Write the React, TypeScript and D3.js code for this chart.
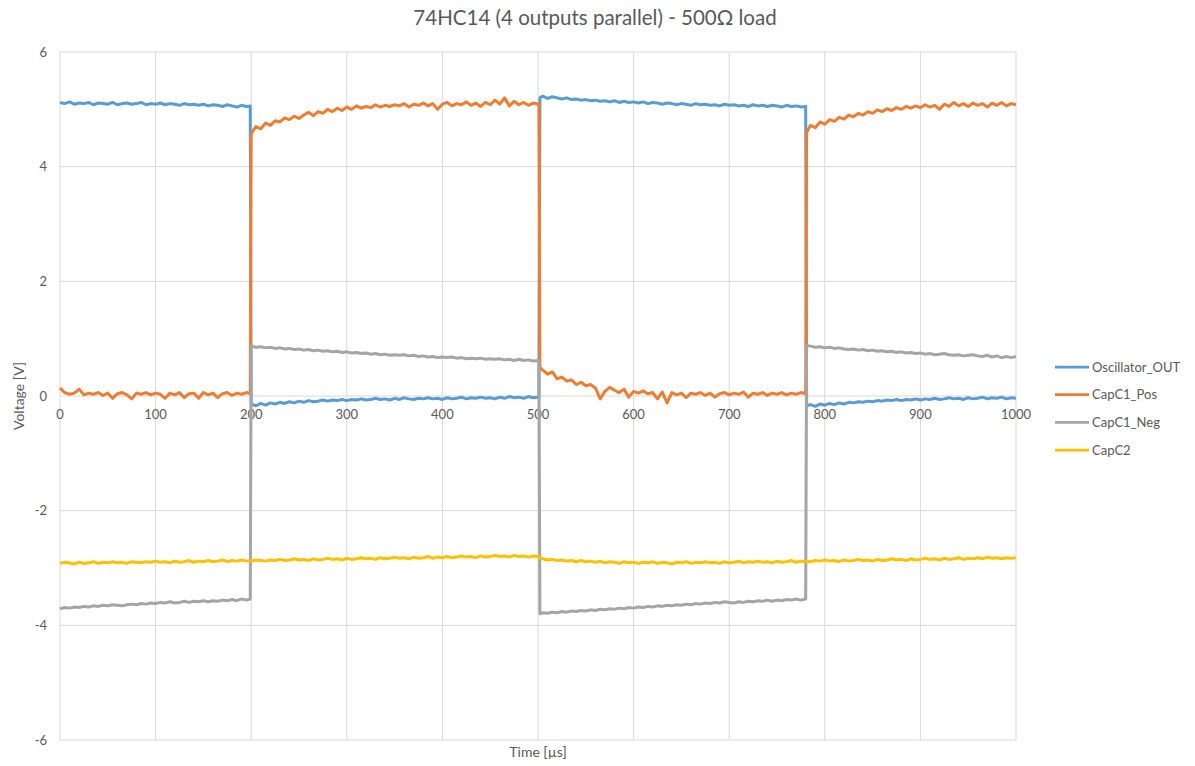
import React from "react";
import * as d3 from "d3";

// Sample instants, split at the three switching edges (µs)
const phaseATime = [...d3.range(0, 200, 5), 199];
const phaseBTime = [...d3.range(200, 505, 5), 501];
const phaseCTime = [502, ...d3.range(505, 785, 5)];
const phaseDTime = [781, ...d3.range(785, 1005, 5)];

const xTicks = [0, 100, 200, 300, 400, 500, 600, 700, 800, 900, 1000];
const yTicks = [-6, -4, -2, 0, 2, 4, 6];

const seriesNames = ["Oscillator_OUT", "CapC1_Pos", "CapC1_Neg", "CapC2"];
const seriesColors = ["#5B9BD5", "#ED7D31", "#A5A5A5", "#FFC000"];

// Oscillator_OUT [V]
const oscA = [
  5.12, 5.1, 5.13, 5.09, 5.11, 5.1, 5.12, 5.08, 5.11, 5.1,
  5.09, 5.12, 5.08, 5.1, 5.11, 5.09, 5.1, 5.12, 5.08, 5.1,
  5.09, 5.11, 5.08, 5.1, 5.09, 5.07, 5.1, 5.08, 5.09, 5.07,
  5.09, 5.06, 5.08, 5.07, 5.05, 5.08, 5.06, 5.04, 5.07, 5.05,
  5.06,
];
const oscB = [
  -0.14, -0.17, -0.13, -0.16, -0.12, -0.14, -0.11, -0.13, -0.1, -0.12,
  -0.09, -0.11, -0.08, -0.1, -0.09, -0.07, -0.09, -0.07, -0.08, -0.06,
  -0.08, -0.06, -0.07, -0.05, -0.07, -0.06, -0.04, -0.06, -0.05, -0.07,
  -0.04, -0.06, -0.03, -0.05, -0.06, -0.04, -0.05, -0.03, -0.05, -0.04,
  -0.06, -0.03, -0.05, -0.04, -0.02, -0.05, -0.03, -0.04, -0.02, -0.04,
  -0.03, -0.05, -0.02, -0.04, -0.01, -0.03, -0.02, -0.04, -0.01, -0.03,
  -0.02, -0.02,
];
const oscC = [
  5.2,
  5.23, 5.19, 5.22, 5.2, 5.18, 5.2, 5.17, 5.18, 5.16, 5.17,
  5.15, 5.16, 5.14, 5.15, 5.13, 5.15, 5.12, 5.14, 5.12, 5.13,
  5.11, 5.13, 5.1, 5.12, 5.11, 5.09, 5.11, 5.1, 5.08, 5.1,
  5.09, 5.07, 5.1, 5.08, 5.09, 5.07, 5.08, 5.06, 5.09, 5.07,
  5.08, 5.06, 5.07, 5.05, 5.08, 5.06, 5.07, 5.05, 5.07, 5.06,
  5.04, 5.07, 5.05, 5.06, 5.04, 5.05,
];
const oscD = [
  -0.17,
  -0.15, -0.18, -0.14, -0.16, -0.13, -0.15, -0.12, -0.14, -0.11, -0.12,
  -0.1, -0.11, -0.09, -0.1, -0.08, -0.09, -0.07, -0.08, -0.06, -0.08,
  -0.06, -0.07, -0.05, -0.07, -0.05, -0.06, -0.04, -0.06, -0.05, -0.03,
  -0.05, -0.04, -0.06, -0.03, -0.05, -0.04, -0.02, -0.05, -0.03, -0.04,
  -0.02, -0.05, -0.03, -0.04,
];

// CapC1_Pos [V]
const posA = [
  0.14, 0.06, 0.03, 0.05, 0.12, 0.02, 0.05, 0.03, 0.06, 0.01,
  0.05, -0.04, 0.04, 0.06, 0.02, -0.05, 0.05, 0.03, 0.06, 0.02,
  0.05, 0.03, -0.04, 0.05, 0.02, 0.06, -0.03, 0.04, 0.05, -0.04,
  0.06, 0.02, 0.05, -0.03, 0.04, 0.06, 0.01, 0.05, 0.03, 0.06,
  0.04,
];
const posB = [
  4.58, 4.7, 4.66, 4.76, 4.72, 4.8, 4.78, 4.85, 4.82, 4.88,
  4.84, 4.9, 4.95, 4.89, 4.96, 4.93, 5.0, 4.96, 5.02, 4.98,
  5.04, 5.0, 5.06, 5.02, 5.05, 5.03, 5.08, 5.04, 5.07, 5.05,
  5.08, 5.06, 5.1, 5.04, 5.09, 5.07, 5.11, 5.06, 5.1, 5.0,
  5.09, 5.12, 5.06, 5.1, 5.08, 5.13, 5.07, 5.11, 5.05, 5.12,
  5.08, 5.16, 5.09, 5.2, 5.06, 5.14, 5.08, 5.12, 5.07, 5.11,
  5.09, 5.1,
];
const posC = [
  0.5,
  0.45, 0.38, 0.42, 0.3, 0.33, 0.26, 0.28, 0.2, 0.24, 0.18,
  0.2, 0.14, -0.05, 0.08, 0.15, 0.1, 0.06, 0.12, -0.02, 0.08,
  0.05, 0.09, 0.04, 0.06, -0.05, 0.07, -0.12, 0.06, 0.02, 0.05,
  -0.03, 0.05, 0.03, 0.06, 0.01, 0.05, -0.02, 0.04, 0.06, 0.02,
  0.05, 0.03, 0.07, -0.02, 0.05, 0.03, 0.06, 0.01, 0.05, 0.03,
  0.06, 0.02, 0.05, 0.03, 0.06, 0.04,
];
const posD = [
  4.6,
  4.72, 4.68, 4.78, 4.74, 4.82, 4.79, 4.86, 4.83, 4.9, 4.87,
  4.93, 4.9, 4.96, 4.93, 4.99, 4.96, 5.01, 4.98, 5.03, 5.0,
  5.05, 5.02, 5.06, 5.03, 5.08, 5.04, 5.07, 5.0, 5.09, 5.05,
  5.12, 5.06, 5.1, 5.05, 5.11, 5.07, 5.1, 5.04, 5.11, 5.07,
  5.12, 5.06, 5.1, 5.08,
];

// CapC1_Neg [V]
const negA = [
  -3.71, -3.69, -3.7, -3.68, -3.69, -3.67, -3.68, -3.66, -3.67, -3.65,
  -3.66, -3.64, -3.65, -3.66, -3.64, -3.63, -3.64, -3.62, -3.63, -3.61,
  -3.62, -3.6, -3.61, -3.59, -3.61, -3.6, -3.58, -3.6, -3.58, -3.59,
  -3.57, -3.59, -3.57, -3.58, -3.56, -3.57, -3.55, -3.57, -3.54, -3.56,
  -3.54,
];
const negB = [
  0.87, 0.85, 0.86, 0.84, 0.85, 0.83, 0.84, 0.82, 0.83, 0.81,
  0.82, 0.8, 0.81, 0.79, 0.8, 0.78, 0.79, 0.77, 0.78, 0.76,
  0.77, 0.75, 0.76, 0.74, 0.75, 0.73, 0.74, 0.72, 0.73, 0.71,
  0.72, 0.71, 0.72, 0.7, 0.71, 0.69, 0.7, 0.68, 0.69, 0.67,
  0.68, 0.67, 0.68, 0.66, 0.67, 0.65, 0.66, 0.65, 0.66, 0.64,
  0.65, 0.64, 0.65, 0.63, 0.64, 0.62, 0.64, 0.62, 0.63, 0.61,
  0.62, 0.62,
];
const negC = [
  -3.8,
  -3.78, -3.79, -3.77, -3.78, -3.76, -3.77, -3.75, -3.76, -3.74, -3.75,
  -3.73, -3.74, -3.72, -3.73, -3.71, -3.72, -3.7, -3.71, -3.69, -3.7,
  -3.68, -3.69, -3.67, -3.68, -3.66, -3.67, -3.65, -3.66, -3.64, -3.65,
  -3.63, -3.64, -3.62, -3.63, -3.61, -3.62, -3.6, -3.61, -3.59, -3.6,
  -3.61, -3.59, -3.6, -3.58, -3.59, -3.57, -3.58, -3.56, -3.58, -3.56,
  -3.57, -3.55, -3.56, -3.54, -3.56, -3.54,
];
const negD = [
  0.88,
  0.87, 0.85, 0.86, 0.84, 0.85, 0.83, 0.84, 0.82, 0.81, 0.82,
  0.8, 0.81, 0.79, 0.8, 0.78, 0.79, 0.77, 0.78, 0.76, 0.77,
  0.75, 0.76, 0.74, 0.75, 0.73, 0.74, 0.72, 0.73, 0.74, 0.72,
  0.71, 0.72, 0.7, 0.71, 0.72, 0.7, 0.69, 0.71, 0.68, 0.7,
  0.67, 0.69, 0.67, 0.69,
];

// CapC2 [V]
const c2A = [
  -2.92, -2.9, -2.91, -2.93, -2.9, -2.92, -2.91, -2.89, -2.92, -2.9,
  -2.91, -2.89, -2.91, -2.9, -2.92, -2.89, -2.9, -2.91, -2.89, -2.9,
  -2.88, -2.9, -2.89, -2.91, -2.88, -2.9, -2.89, -2.87, -2.9, -2.88,
  -2.89, -2.87, -2.89, -2.88, -2.86, -2.89, -2.87, -2.88, -2.86, -2.88,
  -2.87,
];
const c2B = [
  -2.88, -2.86, -2.87, -2.88, -2.86, -2.87, -2.85, -2.87, -2.86, -2.84,
  -2.86, -2.85, -2.87, -2.84, -2.86, -2.85, -2.83, -2.85, -2.84, -2.86,
  -2.83, -2.85, -2.84, -2.82, -2.84, -2.83, -2.85, -2.82, -2.84, -2.83,
  -2.81, -2.83, -2.82, -2.84, -2.81, -2.83, -2.82, -2.8, -2.83, -2.81,
  -2.82, -2.8, -2.82, -2.81, -2.79, -2.81, -2.8, -2.82, -2.79, -2.81,
  -2.8, -2.78, -2.8, -2.79, -2.81, -2.78, -2.8, -2.79, -2.81, -2.79,
  -2.8, -2.81,
];
const c2C = [
  -2.83,
  -2.84, -2.86, -2.85, -2.87, -2.86, -2.88, -2.87, -2.89, -2.87, -2.89,
  -2.88, -2.9, -2.88, -2.91, -2.89, -2.9, -2.92, -2.89, -2.91, -2.9,
  -2.92, -2.9, -2.91, -2.89, -2.92, -2.9, -2.91, -2.93, -2.9, -2.91,
  -2.89, -2.92, -2.9, -2.91, -2.89, -2.91, -2.9, -2.92, -2.89, -2.91,
  -2.9, -2.88, -2.91, -2.89, -2.9, -2.88, -2.9, -2.89, -2.91, -2.88,
  -2.9, -2.89, -2.87, -2.9, -2.88, -2.89,
];
const c2D = [
  -2.88,
  -2.89, -2.87, -2.88, -2.86, -2.88, -2.87, -2.89, -2.86, -2.88, -2.87,
  -2.85, -2.87, -2.86, -2.88, -2.85, -2.87, -2.86, -2.84, -2.86, -2.85,
  -2.87, -2.84, -2.86, -2.85, -2.83, -2.85, -2.84, -2.86, -2.83, -2.85,
  -2.84, -2.82, -2.85, -2.83, -2.84, -2.82, -2.84, -2.81, -2.83, -2.82,
  -2.84, -2.82, -2.83, -2.82,
];

const seriesPhases = [
  [oscA, oscB, oscC, oscD],
  [posA, posB, posC, posD],
  [negA, negB, negC, negD],
  [c2A, c2B, c2C, c2D],
];
const phaseTimes = [phaseATime, phaseBTime, phaseCTime, phaseDTime];

const W = 1195;
const H = 766;
const plot = { left: 60, right: 1016, top: 52, bottom: 740 };
const FONT = "Lato, 'Open Sans', sans-serif";
const TEXT = "#595959";
const GRID = "#D9D9D9";

export default function App() {
  const x = d3.scaleLinear().domain([0, 1000]).range([plot.left, plot.right]);
  const y = d3.scaleLinear().domain([-6, 6]).range([plot.bottom, plot.top]);
  const line = d3
    .line<[number, number]>()
    .x((d) => x(d[0]))
    .y((d) => y(d[1]));

  const seriesPoints = seriesPhases.map((phases) =>
    phases.flatMap((vals, p) =>
      vals.map((v, i) => [phaseTimes[p][i], v] as [number, number])
    )
  );

  return (
    <svg
      width={W}
      height={H}
      style={{ position: "absolute", left: 0, top: 0, background: "#fff" }}
      fontFamily={FONT}
    >
      <rect width={W} height={H} fill="#fff" />
      <text x={595} y={25} textAnchor="middle" fontSize={20.5} fill={TEXT}>
        74HC14 (4 outputs parallel) - 500Ω load
      </text>

      {/* gridlines */}
      {yTicks.map((t) => (
        <line
          key={"gy" + t}
          x1={plot.left}
          x2={plot.right}
          y1={y(t)}
          y2={y(t)}
          stroke={GRID}
          strokeWidth={1}
        />
      ))}
      {xTicks.map((t) => (
        <line
          key={"gx" + t}
          x1={x(t)}
          x2={x(t)}
          y1={plot.top}
          y2={plot.bottom}
          stroke={GRID}
          strokeWidth={1}
        />
      ))}

      {/* y tick labels */}
      {yTicks.map((t) => (
        <text
          key={"ly" + t}
          x={47}
          y={y(t) + 4.5}
          textAnchor="end"
          fontSize={13}
          fill={TEXT}
        >
          {t}
        </text>
      ))}
      {/* x tick labels, sitting under the zero line */}
      {xTicks.map((t) => (
        <text
          key={"lx" + t}
          x={x(t)}
          y={y(0) + 23}
          textAnchor="middle"
          fontSize={13}
          fill={TEXT}
        >
          {t}
        </text>
      ))}

      <text
        transform={`translate(24, ${y(0)}) rotate(-90)`}
        textAnchor="middle"
        fontSize={14}
        fill={TEXT}
      >
        Voltage [V]
      </text>
      <text x={538} y={757} textAnchor="middle" fontSize={14} fill={TEXT}>
        Time [µs]
      </text>

      {/* traces */}
      {seriesPoints.map((pts, i) => (
        <path
          key={seriesNames[i]}
          d={line(pts) ?? ""}
          fill="none"
          stroke={seriesColors[i]}
          strokeWidth={3}
          strokeLinejoin="round"
        />
      ))}

      {/* legend */}
      {seriesNames.map((name, i) => {
        const ly = 367 + i * 27.7;
        return (
          <g key={"lg" + name}>
            <line
              x1={1055}
              x2={1089}
              y1={ly}
              y2={ly}
              stroke={seriesColors[i]}
              strokeWidth={2.75}
            />
            <text x={1092} y={ly + 4.5} fontSize={13} fill={TEXT}>
              {name}
            </text>
          </g>
        );
      })}
    </svg>
  );
}
